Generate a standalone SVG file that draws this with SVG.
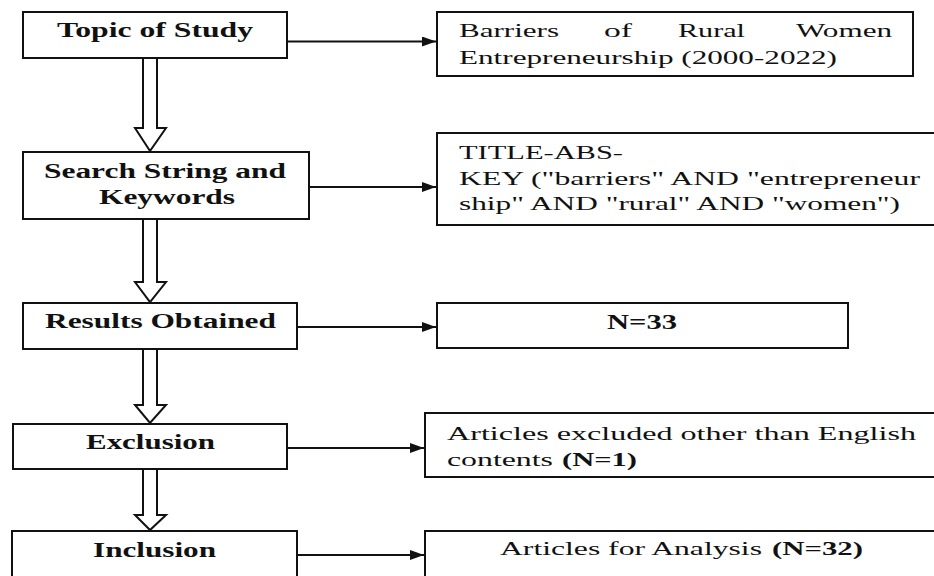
<svg xmlns="http://www.w3.org/2000/svg" width="934" height="576" viewBox="0 0 934 576">
  <style>
    .box { fill: #ffffff; stroke: #111111; stroke-width: 2; }
    .hd { font-family: "Liberation Serif", "Times New Roman", serif; font-weight: bold; font-size: 20px; fill: #111111; }
    .tx { font-family: "Liberation Serif", "Times New Roman", serif; font-size: 19px; fill: #111111; }
    .b { font-weight: bold; }
    .line { fill: none; stroke: #111111; stroke-width: 2; }
    .flow { fill: #ffffff; stroke: #111111; stroke-width: 2; stroke-linejoin: miter; }
  </style>
  <defs>
    <marker id="tip" viewBox="0 0 14 10" refX="14" refY="5" markerWidth="14" markerHeight="10" markerUnits="userSpaceOnUse" orient="auto">
      <path d="M0,0 L14,5 L0,10 Z" fill="#111111"/>
    </marker>
  </defs>
  <rect width="934" height="576" fill="#ffffff"/>

  <!-- connectors: hollow downward arrows and side pointers -->
  <g id="connectors">
    <path class="flow" d="M143,58 V128 H135 L150,151 L166,128 H157 V58"/>
    <path class="flow" d="M143,219 V282 H135 L150,302 L166,282 H157 V219"/>
    <path class="flow" d="M143,349 V405 H135 L150,423 L166,405 H157 V349"/>
    <path class="flow" d="M143,469 V515 H135 L150,530 L166,515 H157 V469"/>
    <line class="line" x1="287" y1="41.5" x2="436" y2="41.5" marker-end="url(#tip)"/>
    <line class="line" x1="309" y1="187" x2="436" y2="187" marker-end="url(#tip)"/>
    <line class="line" x1="297" y1="327" x2="436" y2="327" marker-end="url(#tip)"/>
    <line class="line" x1="287" y1="448" x2="424" y2="448" marker-end="url(#tip)"/>
    <line class="line" x1="297" y1="555" x2="424" y2="555" marker-end="url(#tip)"/>
  </g>

  <g id="topic">
    <rect class="box" x="23" y="12" width="264" height="46"/>
    <text class="hd" x="57" y="37" textLength="196" lengthAdjust="spacingAndGlyphs">Topic of Study</text>
  </g>
  <g id="topic-detail">
    <rect class="box" x="437" y="12" width="476" height="64"/>
    <!-- justified first line: words placed one by one -->
    <text class="tx" y="37"><tspan x="459" textLength="100" lengthAdjust="spacingAndGlyphs">Barriers</tspan><tspan x="604" textLength="28" lengthAdjust="spacingAndGlyphs">of</tspan><tspan x="678" textLength="67" lengthAdjust="spacingAndGlyphs">Rural</tspan><tspan x="796" textLength="96" lengthAdjust="spacingAndGlyphs">Women</tspan></text>
    <text class="tx" x="459" y="64" textLength="378" lengthAdjust="spacingAndGlyphs">Entrepreneurship (2000-2022)</text>
  </g>

  <g id="search">
    <rect class="box" x="23" y="152" width="286" height="67"/>
    <text class="hd" x="44" y="178" textLength="242" lengthAdjust="spacingAndGlyphs">Search String and</text>
    <text class="hd" x="99" y="204" textLength="136" lengthAdjust="spacingAndGlyphs">Keywords</text>
  </g>
  <g id="search-detail">
    <rect class="box" x="437" y="133" width="500" height="92"/>
    <text class="tx" x="459" y="159" textLength="164" lengthAdjust="spacingAndGlyphs">TITLE-ABS-</text>
    <text class="tx" x="459" y="185" textLength="461" lengthAdjust="spacingAndGlyphs">KEY ("barriers" AND "entrepreneur</text>
    <text class="tx" x="459" y="210" textLength="441" lengthAdjust="spacingAndGlyphs">ship" AND "rural" AND "women")</text>
  </g>

  <g id="results">
    <rect class="box" x="23" y="303" width="274" height="46"/>
    <text class="hd" x="45" y="328" textLength="231" lengthAdjust="spacingAndGlyphs">Results Obtained</text>
  </g>
  <g id="results-detail">
    <rect class="box" x="437" y="303" width="411" height="45"/>
    <text class="hd" x="607" y="329" textLength="70" lengthAdjust="spacingAndGlyphs">N=33</text>
  </g>

  <g id="exclusion">
    <rect class="box" x="13" y="424" width="274" height="45"/>
    <text class="hd" x="86" y="449" textLength="129" lengthAdjust="spacingAndGlyphs">Exclusion</text>
  </g>
  <g id="exclusion-detail">
    <rect class="box" x="425" y="413" width="512" height="64"/>
    <text class="tx" x="447" y="440" textLength="469" lengthAdjust="spacingAndGlyphs">Articles excluded other than English</text>
    <text class="tx" y="466"><tspan x="447" textLength="106" lengthAdjust="spacingAndGlyphs">contents</tspan><tspan class="b" x="562" textLength="75" lengthAdjust="spacingAndGlyphs">(N=1)</tspan></text>
  </g>

  <g id="inclusion">
    <rect class="box" x="12" y="531" width="285" height="50"/>
    <text class="hd" x="93" y="557" textLength="123" lengthAdjust="spacingAndGlyphs">Inclusion</text>
  </g>
  <g id="inclusion-detail">
    <rect class="box" x="425" y="531" width="512" height="50"/>
    <text class="tx" y="555"><tspan x="500" textLength="262" lengthAdjust="spacingAndGlyphs">Articles for Analysis</tspan><tspan class="b" x="772" textLength="91" lengthAdjust="spacingAndGlyphs">(N=32)</tspan></text>
  </g>
</svg>
